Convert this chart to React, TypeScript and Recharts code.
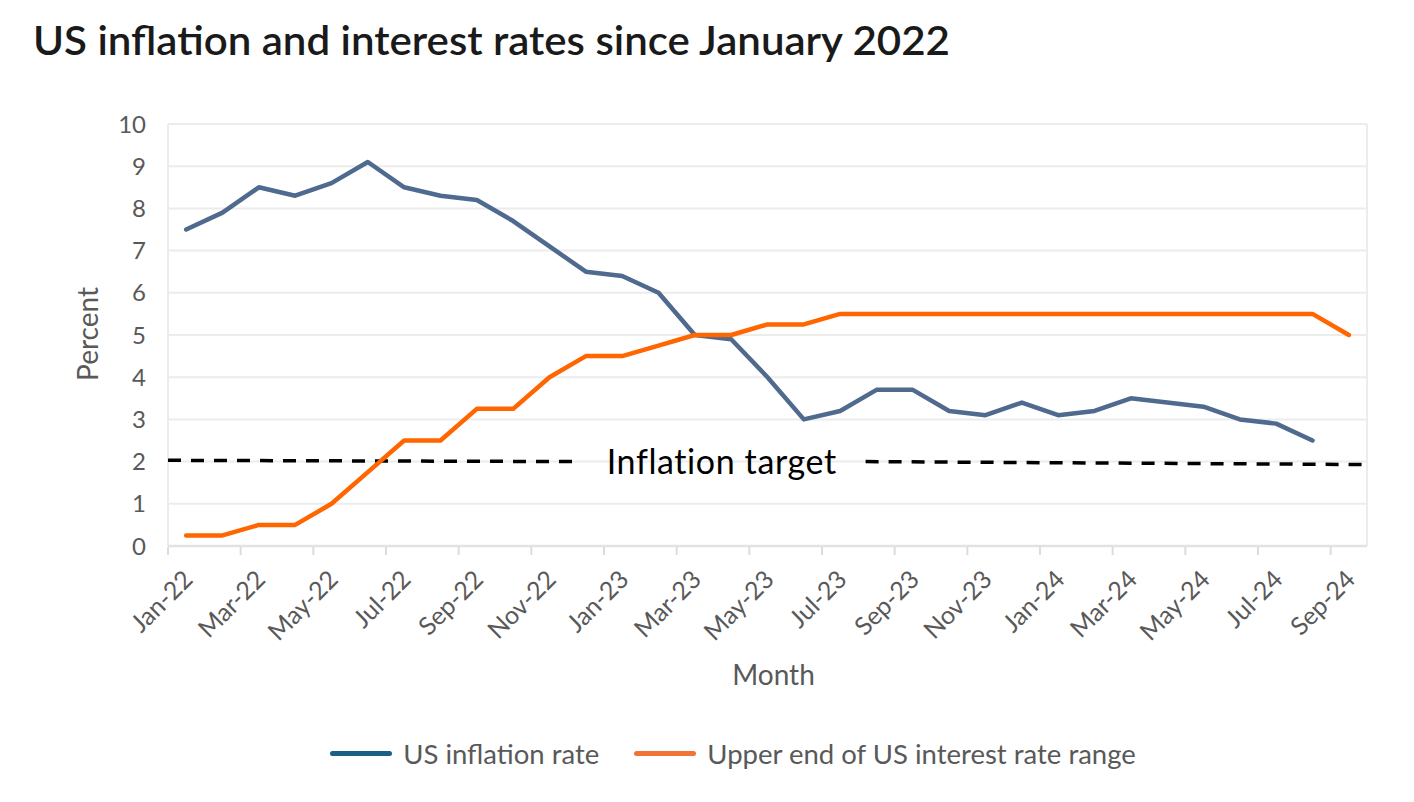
import React from 'react'
import {
  LineChart,
  Line,
  XAxis,
  YAxis,
  CartesianGrid,
  ReferenceLine,
  ReferenceDot,
} from 'recharts'

const MONTHS = [
  'Jan-22', 'Feb-22', 'Mar-22', 'Apr-22', 'May-22', 'Jun-22', 'Jul-22', 'Aug-22', 'Sep-22', 'Oct-22', 'Nov-22', 'Dec-22',
  'Jan-23', 'Feb-23', 'Mar-23', 'Apr-23', 'May-23', 'Jun-23', 'Jul-23', 'Aug-23', 'Sep-23', 'Oct-23', 'Nov-23', 'Dec-23',
  'Jan-24', 'Feb-24', 'Mar-24', 'Apr-24', 'May-24', 'Jun-24', 'Jul-24', 'Aug-24', 'Sep-24',
]

const INFLATION = [
  7.5, 7.9, 8.5, 8.3, 8.6, 9.1, 8.5, 8.3, 8.2, 7.7, 7.1, 6.5,
  6.4, 6.0, 5.0, 4.9, 4.0, 3.0, 3.2, 3.7, 3.7, 3.2, 3.1, 3.4,
  3.1, 3.2, 3.5, 3.4, 3.3, 3.0, 2.9, 2.5, null,
]

const RATE_UPPER = [
  0.25, 0.25, 0.5, 0.5, 1.0, 1.75, 2.5, 2.5, 3.25, 3.25, 4.0, 4.5,
  4.5, 4.75, 5.0, 5.0, 5.25, 5.25, 5.5, 5.5, 5.5, 5.5, 5.5, 5.5,
  5.5, 5.5, 5.5, 5.5, 5.5, 5.5, 5.5, 5.5, 5.0,
]

// dashed target line, broken where the label sits
const TARGET_X = [0, 11.3, 11.31, 19.2, 33]
const TARGET_V = [2.03, 2.0, null, 2.0, 1.93]

const Y_TICKS = [0, 1, 2, 3, 4, 5, 6, 7, 8, 9, 10]

const FONT = 'Lato, "Noto Sans", sans-serif'
const GREY_TEXT = '#595959'
const BLUE = '#4f6a8e'
const ORANGE = '#ff6600'

const data = MONTHS.map((m, i) => ({
  x: i + 0.5,
  month: m,
  inflation: INFLATION[i],
  rate: RATE_UPPER[i],
}))

const targetData = TARGET_X.map((x, i) => ({ x, v: TARGET_V[i] }))

// integer ticks = tick marks on the boundaries, .5 ticks = month labels
const X_TICKS: number[] = []
for (let i = 0; i < MONTHS.length; i += 2) {
  X_TICKS.push(i, i + 0.5)
}

function MonthTick(props: any) {
  const { x, y, payload } = props
  const v = payload.value as number
  if (Number.isInteger(v)) {
    return <line x1={x} y1={y + 1} x2={x} y2={y + 9} stroke="#dcdcdc" strokeWidth={2} />
  }
  const label = MONTHS[Math.floor(v)]
  const ax = x + 8
  const ay = y + 35
  return (
    <text
      x={ax}
      y={ay}
      transform={`rotate(-45, ${ax}, ${ay})`}
      textAnchor="end"
      fontSize={25}
      fontFamily={FONT}
      fill={GREY_TEXT}
    >
      {label}
    </text>
  )
}

function PercentLabel() {
  return (
    <text
      transform="translate(87, 334) rotate(-90)"
      textAnchor="middle"
      dominantBaseline="central"
      fontSize={28}
      fontFamily={FONT}
      fill={GREY_TEXT}
    >
      Percent
    </text>
  )
}

function MonthLabel(props: any) {
  const vb = props.viewBox
  return (
    <text
      x={vb.x + vb.width / 2 + 6}
      y={674}
      textAnchor="middle"
      dominantBaseline="central"
      fontSize={28}
      fontFamily={FONT}
      fill={GREY_TEXT}
    >
      Month
    </text>
  )
}

const LEGEND = [
  { label: 'US inflation rate', color: '#1b5f86' },
  { label: 'Upper end of US interest rate range', color: '#ef7535' },
]

export default function App() {
  return (
    <div style={{ position: 'absolute', left: 0, top: 0, width: 1414, height: 802, background: '#fff' }}>
      <svg width={1414} height={80} style={{ position: 'absolute', left: 0, top: 0 }}>
        <text
          x={33}
          y={55}
          fontSize={41}
          fontWeight={600}
          fontFamily={FONT}
          fill="#1a1a1a"
          textLength={917}
          lengthAdjust="spacingAndGlyphs"
        >
          US inflation and interest rates since January 2022
        </text>
      </svg>

      <LineChart
        width={1414}
        height={802}
        data={data}
        margin={{ top: 124, right: 47, left: 0, bottom: 106 }}
      >
        <CartesianGrid vertical={false} stroke="#ececec" strokeWidth={2} />
        <XAxis
          type="number"
          dataKey="x"
          domain={[0, 33]}
          ticks={X_TICKS}
          interval={0}
          tickSize={0}
          tickMargin={0}
          tickLine={false}
          tick={<MonthTick />}
          axisLine={{ stroke: '#e2e2e2', strokeWidth: 2.5 }}
          height={150}
          label={<MonthLabel />}
        />
        <YAxis
          domain={[0, 10]}
          ticks={Y_TICKS}
          interval={0}
          width={168}
          tickSize={0}
          tickMargin={22}
          axisLine={false}
          tickLine={false}
          tick={{ fill: GREY_TEXT, fontSize: 24, fontFamily: FONT }}
          label={<PercentLabel />}
        />
        <ReferenceLine x={0} stroke="#ececec" strokeWidth={2} />
        <ReferenceLine x={33} stroke="#ececec" strokeWidth={2} />
        <Line
          data={targetData}
          dataKey="v"
          stroke="#000"
          strokeWidth={3.5}
          strokeDasharray="13 10"
          dot={false}
          activeDot={false}
          isAnimationActive={false}
        />
        <Line
          dataKey="inflation"
          stroke={BLUE}
          strokeWidth={4.5}
          strokeLinejoin="round"
          strokeLinecap="round"
          dot={false}
          activeDot={false}
          isAnimationActive={false}
        />
        <Line
          dataKey="rate"
          stroke={ORANGE}
          strokeWidth={4.5}
          strokeLinejoin="round"
          strokeLinecap="round"
          dot={false}
          activeDot={false}
          isAnimationActive={false}
        />
        <ReferenceDot
          x={15.24}
          y={2}
          r={0}
          fill="none"
          stroke="none"
          label={{
            value: 'Inflation target',
            position: 'center',
            fontSize: 34,
            fill: '#000',
            fontFamily: FONT,
            letterSpacing: 0.6,
          }}
        />
      </LineChart>

      <div
        style={{
          position: 'absolute',
          top: 737,
          left: 0,
          width: 1414,
          display: 'flex',
          justifyContent: 'center',
          paddingLeft: 52,
          boxSizing: 'border-box',
          fontFamily: FONT,
          fontSize: 27.5,
          color: GREY_TEXT,
        }}
      >
        {LEGEND.map((item, i) => (
          <div key={item.label} style={{ display: 'flex', alignItems: 'center', marginLeft: i === 0 ? 0 : 35 }}>
            <div style={{ width: 62, height: 5, borderRadius: 3, background: item.color, marginRight: 11 }} />
            <span>{item.label}</span>
          </div>
        ))}
      </div>
    </div>
  )
}
